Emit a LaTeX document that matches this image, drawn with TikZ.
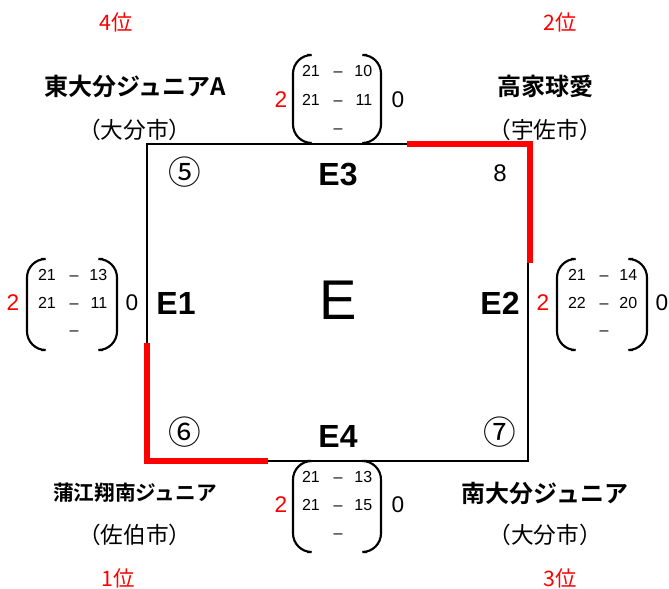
\documentclass[tikz,border=0pt]{standalone}
\usepackage{fontspec}
\setmainfont{Liberation Sans}
\newfontfamily\jp{Noto Sans CJK JP}
\newfontfamily\jpb{Noto Sans CJK JP Bold}
\definecolor{myred}{RGB}{255,0,0}
\begin{document}
\begin{tikzpicture}[x=0.75pt,y=-0.75pt,
  rank/.style={text=myred,font=\jp\fontsize{16}{16}\selectfont},
  team/.style={font=\jpb\fontsize{18}{18}\selectfont},
  teams/.style={font=\jpb\fontsize{15.5}{15.5}\selectfont},
  city/.style={font=\jp\fontsize{17}{17}\selectfont},
  circ/.style={font=\jp\fontsize{24.5}{24.5}\selectfont},
  elab/.style={font=\bfseries\fontsize{24}{24}\selectfont},
  sc/.style={font=\fontsize{12}{12}\selectfont,text height=8.6pt,text depth=0pt},
  dsh/.style={sc},
  win/.style={text=myred,font=\fontsize{17}{17}\selectfont},
  lose/.style={font=\fontsize{17}{17}\selectfont},
  blk/.style={line width=2.2pt,black},
  redl/.style={line width=4.5pt,myred},
  paren/.style={line width=1.6pt,rounded corners=14pt}]
\useasboundingbox (0,0) rectangle (669,589);
% square
\coordinate (tl) at (147,144);
\coordinate (tr) at (528,144);
\coordinate (br) at (528,461);
\coordinate (bl) at (147,461);
\draw[blk] (tl) -- (tr) -- (br) -- (bl) -- cycle;
\coordinate (r1) at (407,144);
\coordinate (r2) at (530,144);
\coordinate (r3) at (530,263);
\coordinate (l1) at (147,343);
\coordinate (l2) at (147,461);
\coordinate (l3) at (268,461);
\draw[redl] (r1) -- (r2) -- (r3);
\draw[redl] (l1) -- (l2) -- (l3);
% ranks
\node[rank] (rk4) at (116,22) {4位};
\node[rank] (rk2) at (560,22) {2位};
\node[rank] (rk1) at (118,578) {1位};
\node[rank] (rk3) at (560,578) {3位};
% teams
\node[team] (t5) at (135,86) {東大分ジュニアA};
\node[city] (c5) at (135,130) {（大分市）};
\node[team] (t8) at (545,86) {高家球愛};
\node[city] (c8) at (545,130) {（宇佐市）};
\node[teams] (t6) at (135,493) {蒲江翔南ジュニア};
\node[city] (c6) at (135,535) {（佐伯市）};
\node[team] (t7) at (545,493) {南大分ジュニア};
\node[city] (c7) at (545,535) {（大分市）};
% inside labels
\node[circ] (n5) at (185,172) {⑤};
\node[circ] (n6) at (185,432) {⑥};
\node[circ] (n7) at (500,432) {⑦};
\node[font=\fontsize{18}{18}\selectfont] (n8) at (500,173) {8};
\node[elab] (e3) at (338,175) {E3};
\node[elab] (e4) at (338,436) {E4};
\node[elab] (e1) at (176,303) {E1};
\node[elab] (e2) at (500,303) {E2};
\node[font=\fontsize{42}{42}\selectfont] (e) at (338,300) {E};
% top
\draw[paren] (307,55) -- (293,55) -- (293,143) -- (307,143);
\draw[paren] (367,55) -- (381,55) -- (381,143) -- (367,143);
\node[sc] (ta1) at (311,71) {21}; \node[dsh] (td1) at (338,71) {–}; \node[sc,anchor=east] (tb1) at (377,71) {10};
\node[sc] (ta2) at (311,100) {21}; \node[dsh] (td2) at (338,100) {–}; \node[sc,anchor=east] (tb2) at (377,100) {11};
\node[dsh] (td3) at (338,128) {–};
\node[win] (tw) at (281,100) {2};
\node[lose] (tl0) at (398,100) {0};
% left
\draw[paren] (41,259) -- (27,259) -- (27,350) -- (41,350);
\draw[paren] (103,259) -- (117,259) -- (117,350) -- (103,350);
\node[sc] (la1) at (47,275) {21}; \node[dsh] (ld1) at (74,275) {–}; \node[sc,anchor=east] (lb1) at (112,275) {13};
\node[sc] (la2) at (47,303) {21}; \node[dsh] (ld2) at (74,303) {–}; \node[sc,anchor=east] (lb2) at (112,303) {11};
\node[dsh] (ld3) at (74,330) {–};
\node[win] (lw) at (13,303) {2};
\node[lose] (ll0) at (132,303) {0};
% right
\draw[paren] (571,259) -- (557,259) -- (557,350) -- (571,350);
\draw[paren] (633,259) -- (647,259) -- (647,350) -- (633,350);
\node[sc] (ra1) at (577,275) {21}; \node[dsh] (rd1) at (604,275) {–}; \node[sc,anchor=east] (rb1) at (642,275) {14};
\node[sc] (ra2) at (577,303) {22}; \node[dsh] (rd2) at (604,303) {–}; \node[sc,anchor=east] (rb2) at (642,303) {20};
\node[dsh] (rd3) at (604,330) {–};
\node[win] (rw) at (543,303) {2};
\node[lose] (rl0) at (662,303) {0};
% bottom
\draw[paren] (307,461) -- (293,461) -- (293,552) -- (307,552);
\draw[paren] (367,461) -- (381,461) -- (381,552) -- (367,552);
\node[sc] (ba1) at (311,477) {21}; \node[dsh] (bd1) at (338,477) {–}; \node[sc,anchor=east] (bb1) at (377,477) {13};
\node[sc] (ba2) at (311,505) {21}; \node[dsh] (bd2) at (338,505) {–}; \node[sc,anchor=east] (bb2) at (377,505) {15};
\node[dsh] (bd3) at (338,533) {–};
\node[win] (bw) at (281,505) {2};
\node[lose] (bl0) at (398,505) {0};
\end{tikzpicture}
\end{document}
